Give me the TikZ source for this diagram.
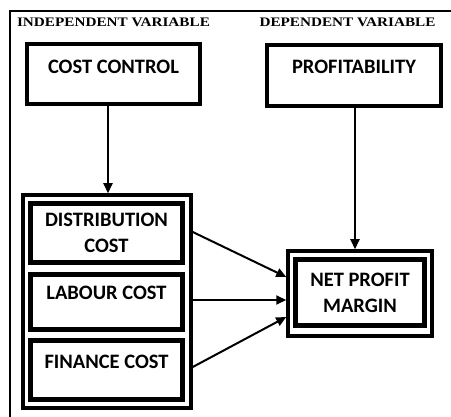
\documentclass[tikz,border=0pt]{standalone}
\usepackage{fontspec}
\setmainfont{Liberation Serif}
\newfontfamily\boxfont{Carlito}
\usetikzlibrary{arrows.meta,calc}

\tikzset{
  frameline/.style={line width=2.5pt},
  heading/.style={font=\bfseries\fontsize{13}{15}\selectfont, inner sep=0pt},
  varbox/.style={draw, line width=4pt, inner sep=0pt, align=center,
    font=\boxfont\bfseries\fontsize{20.5}{26}\selectfont},
  groupbox/.style={draw, line width=3.5pt, inner sep=0pt},
  itembox/.style={varbox, line width=5pt},
  link/.style={line width=2pt, -{Triangle[length=10pt,width=9pt]}},
}

\begin{document}
\begin{tikzpicture}[x=1pt,y=-1pt]
  \clip (0,0) rectangle (451,417);
  \fill[white] (0,0) rectangle (451,417);

  % page frame
  \draw[frameline] (10,425) -- (10,11) -- (460,11);

  % column headings
  \node[heading] (hind) at (113.5,22) {\scalebox{1.17}[1]{INDEPENDENT VARIABLE}};
  \node[heading] (hdep) at (347.5,22) {\scalebox{1.17}[1]{DEPENDENT VARIABLE}};

  % top-level variables
  \node[varbox, minimum width=173, minimum height=60, text depth=14pt]
    (cc) at (113.5,74) {COST CONTROL};
  \node[varbox, minimum width=174, minimum height=61, text depth=17pt]
    (prof) at (354,75.5) {PROFITABILITY};

  % cost components
  \node[groupbox, minimum width=168, minimum height=213] (grp) at (107,301.5) {};
  \node[itembox, minimum width=152, minimum height=59] (dist) at (106.5,233)
    {DISTRIBUTION\\COST};
  \node[itembox, minimum width=152, minimum height=55, text depth=18pt]
    (lab) at (106.5,302) {LABOUR COST};
  \node[itembox, minimum width=152, minimum height=59, text depth=16pt]
    (fin) at (106.5,370) {FINANCE COST};

  % outcome measure
  \node[groupbox, minimum width=144, minimum height=85] (npmo) at (360,293.5) {};
  \node[itembox, minimum width=129, minimum height=66] (npm) at (360,292.5)
    {NET PROFIT\\MARGIN};

  % links
  \draw[link] (cc.south -| 108,0) -- (grp.north -| 108,0);
  \draw[link] (prof.south -| 355,0) -- (npmo.north -| 355,0);

  \coordinate (s1) at (grp.east |- 0,232);
  \coordinate (s2) at (grp.east |- 0,300);
  \coordinate (s3) at (grp.east |- 0,367);
  \coordinate (e1) at (npmo.west |- 0,277);
  \coordinate (e2) at (npmo.west |- 0,300);
  \coordinate (e3) at (npmo.west |- 0,317);
  \draw[link] (s1) -- (e1);
  \draw[link] (s2) -- (e2);
  \draw[link] (s3) -- (e3);
\end{tikzpicture}
\end{document}
